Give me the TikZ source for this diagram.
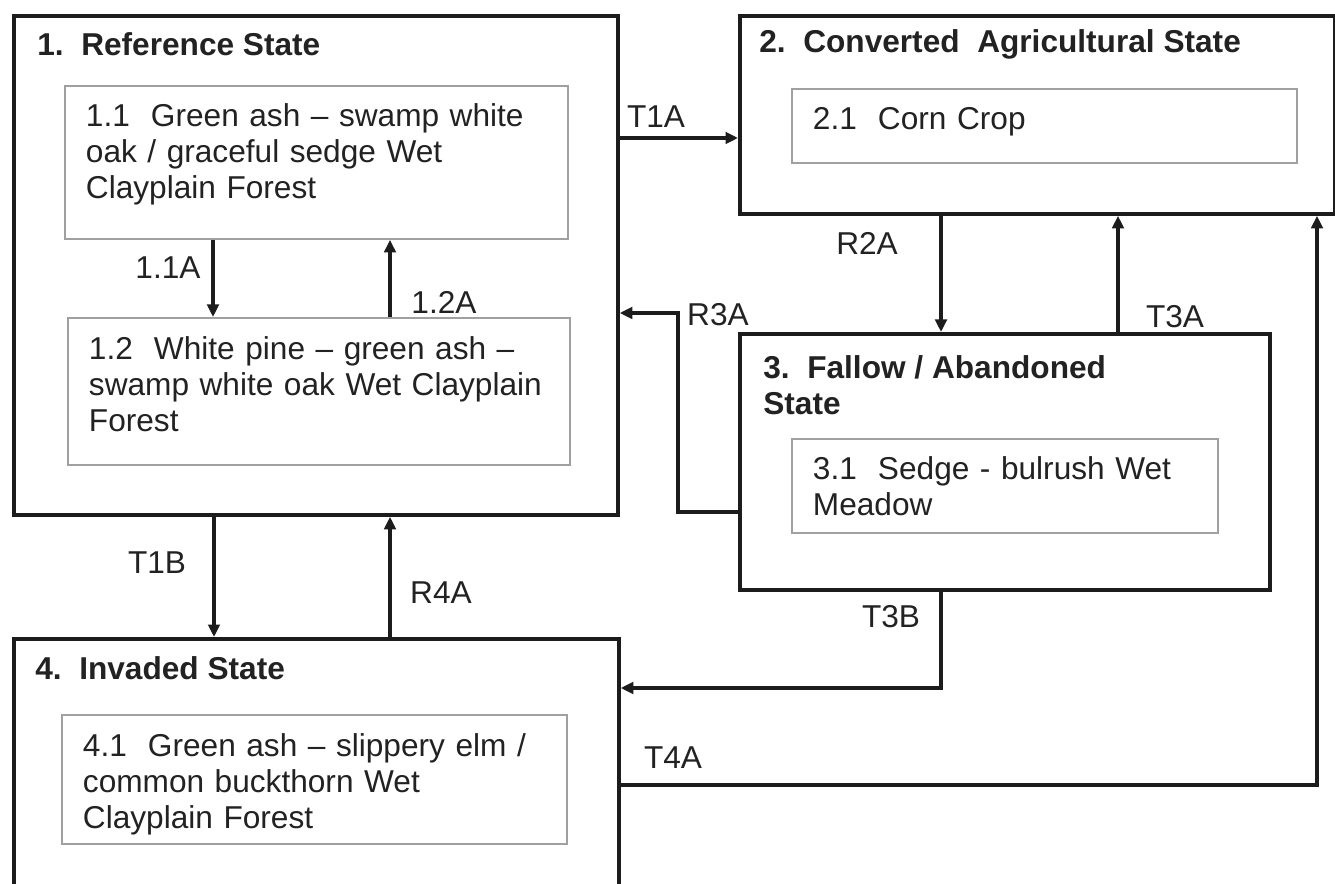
\documentclass[tikz,border=0pt]{standalone}
\usepackage{fontspec}
\setmainfont{Liberation Sans}
\usetikzlibrary{arrows.meta}
\definecolor{ink}{HTML}{222222}
\definecolor{frame}{HTML}{1C1C1C}
\definecolor{pale}{HTML}{A0A0A0}
\begin{document}
\begin{tikzpicture}[x=0.02cm,y=-0.02cm,
  every node/.style={text=ink,font=\fontsize{18}{20.4}\selectfont},
  statebox/.style={draw=frame,line width=2.2pt,anchor=north west,inner sep=0pt},
  phasebox/.style={draw=pale,line width=1.1pt,anchor=north west,align=left,inner xsep=0.42cm,inner ysep=0pt},
  lift/.style={execute at end node={\endgraf\vspace*{#1}}},
  statename/.style={anchor=west,inner sep=0pt,align=left,font=\bfseries\fontsize{18}{20.4}\selectfont},
  tag/.style={inner sep=0pt},
  arr/.style={draw=frame,line width=1.8pt,-{Triangle[length=0.25cm,width=0.23cm]}}]

\useasboundingbox (0,0) rectangle (1335,884);
\clip (0,0) rectangle (1335,884);

\node[statebox,minimum width=12.08cm,minimum height=9.98cm] (ref) at (12,14) {};
\node[statebox,minimum width=11.9cm,minimum height=3.96cm] (conv) at (738,14) {};
\node[statebox,minimum width=10.6cm,minimum height=5.12cm] (fal) at (738,332) {};
\node[statebox,minimum width=12.1cm,minimum height=5.66cm] (inv) at (12,637) {};

\node[statename] (refname) at (37,44) {1.\ \ Reference State};
\node[statename] (convname) at (759,44) {2.\ \ Converted\ \ Agricultural State};
\node[statename] (falname) at (763,385) {3.\ \ Fallow / Abandoned\\State};
\node[statename] (invname) at (35,668) {4.\ \ Invaded State};

\node[phasebox,lift=0.32cm,text width=9.22cm,minimum height=3.06cm] (b11) at (64,85)
  {1.1\ \ Green ash -- swamp white\\oak / graceful sedge Wet\\Clayplain Forest};
\node[phasebox,lift=0.28cm,text width=9.2cm,minimum height=2.94cm] (b12) at (67,317)
  {1.2\ \ White pine -- green ash --\\swamp white oak Wet Clayplain\\Forest};
\node[phasebox,lift=0.16cm,text width=9.26cm,minimum height=1.48cm] (b21) at (791,88)
  {2.1\ \ Corn Crop};
\node[phasebox,text width=7.68cm,minimum height=1.88cm] (b31) at (791,438)
  {3.1\ \ Sedge - bulrush Wet\\Meadow};
\node[phasebox,lift=-0.2cm,text width=9.26cm,minimum height=2.58cm] (b41) at (61,714)
  {4.1\ \ Green ash -- slippery elm /\\common buckthorn Wet\\Clayplain Forest};

\draw[arr] (b11.south -| 213,0) -- (b12.north -| 213,0);
\draw[arr] (b12.north -| 390,0) -- (b11.south -| 390,0);
\draw[arr] (ref.east |- 0,138) -- (conv.west |- 0,138);
\draw[arr] (conv.south -| 941,0) -- (fal.north -| 941,0);
\draw[arr] (fal.north -| 1118,0) -- (conv.south -| 1118,0);
\draw[arr] (fal.west |- 0,512) -| (678,313) -- (ref.east |- 0,313);
\draw[arr] (ref.south -| 214,0) -- (inv.north -| 214,0);
\draw[arr] (inv.north -| 390,0) -- (ref.south -| 390,0);
\draw[arr] (fal.south -| 941,0) |- (inv.east |- 0,688);
\draw[arr] (inv.east |- 0,785) -| (conv.south -| 1317,0);

\node[tag] (t1a) at (656,117) {T1A};
\node[tag] (p11a) at (168,268) {1.1A};
\node[tag] (p12a) at (444,302) {1.2A};
\node[tag] (r2a) at (867,243) {R2A};
\node[tag] (r3a) at (718,315) {R3A};
\node[tag] (t3a) at (1175,317) {T3A};
\node[tag] (t1b) at (157,563) {T1B};
\node[tag] (r4a) at (441,593) {R4A};
\node[tag] (t3b) at (891,617) {T3B};
\node[tag] (t4a) at (673,758) {T4A};
\end{tikzpicture}
\end{document}
